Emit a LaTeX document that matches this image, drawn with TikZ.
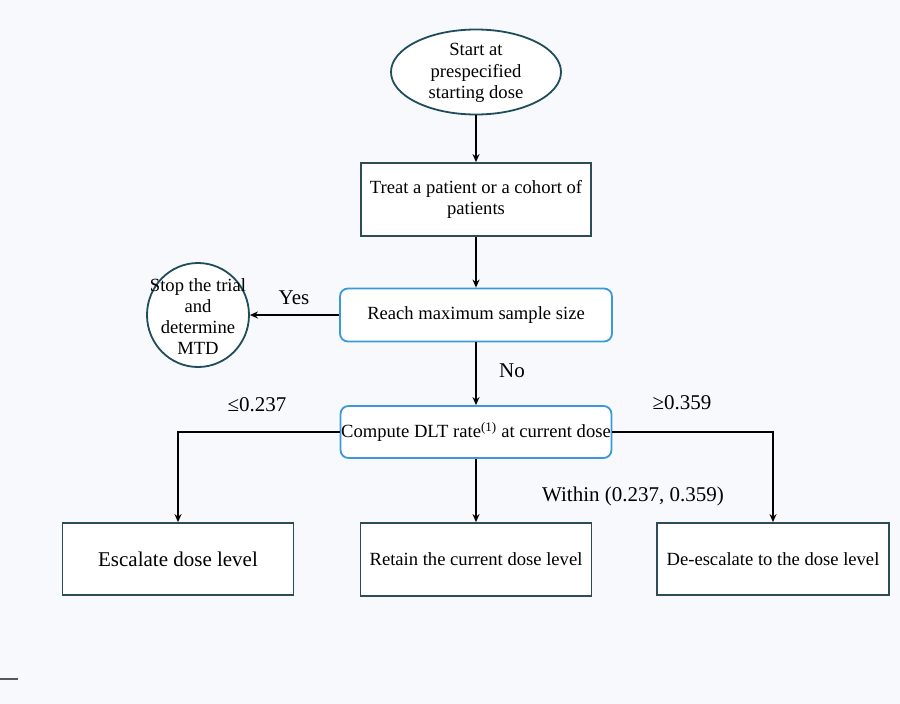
\documentclass[tikz,border=0pt]{standalone}
\usepackage{fontspec}
\setmainfont{Liberation Serif}
\usetikzlibrary{shapes.geometric,arrows.meta}
\definecolor{bgc}{HTML}{F8F9FC}
\definecolor{boxc}{HTML}{2E4C58}
\definecolor{ovalc}{HTML}{1F4D5E}
\definecolor{rboxc}{HTML}{3A9AD9}
\begin{document}
\begin{tikzpicture}[x=1pt,y=-1pt,
  txt/.style={font=\fontsize{18.6}{21.5}\selectfont},
  box/.style={draw=boxc, line width=1.8pt, fill=white, inner sep=0pt, align=center, txt},
  rbox/.style={draw=rboxc, line width=1.8pt, rounded corners=8pt, fill=white, inner sep=0pt, align=center, txt},
  oval/.style={ellipse, draw=ovalc, line width=1.8pt, fill=white, inner sep=0pt},
  ovaltext/.style={align=center, inner sep=0pt, txt},
  conn/.style={line width=2.8pt, -{Stealth[length=8pt,width=7pt]}},
  lbl/.style={font=\fontsize{21}{24}\selectfont, inner sep=1pt}]
\fill[bgc] (0,0) rectangle (900,704);
\useasboundingbox (0,0) rectangle (900,704);

\node[oval, minimum width=170pt, minimum height=85pt] (start) at (476,72) {};
\node[ovaltext] (starttext) at (476,73) {Start at\\prespecified\\starting dose};

\node[box, minimum width=230pt, minimum height=73pt] (treat) at (476,199.5) {Treat a patient or a cohort of\\patients};

\node[rbox, minimum width=272pt, minimum height=53pt] (reach) at (476,315) {Reach maximum sample size};

\node[oval, minimum width=102pt, minimum height=104pt] (stop) at (198,315) {};
\node[ovaltext, font=\fontsize{18.6}{21}\selectfont] (stoptext) at (198,317) {Stop the trial\\and\\determine\\MTD};

\node[rbox, minimum width=271pt, minimum height=52pt] (compute) at (476,432) {Compute DLT rate\textsuperscript{(1)} at current dose};

\node[box, minimum width=231pt, minimum height=72pt, font=\fontsize{21}{24}\selectfont] (escalate) at (178,559) {Escalate dose level};
\node[box, minimum width=231pt, minimum height=73pt] (retain) at (476,559.5) {Retain the current dose level};
\node[box, minimum width=232pt, minimum height=72pt] (deesc) at (773,559) {De-escalate to the dose level};

\draw[conn] (start.south) -- (treat.north);
\draw[conn] (treat.south) -- (reach.north);
\draw[conn] (reach.west) -- (stop.east);
\draw[conn] (reach.south) -- (compute.north);
\draw[conn] (compute.west) -| (escalate.north);
\draw[conn] (compute.east) -| (deesc.north);
\draw[conn] (compute.south) -- (retain.north);

\node[lbl] (yes) at (294,298) {Yes};
\node[lbl] (no) at (512,371) {No};
\node[lbl] (le) at (257,405) {≤0.237};
\node[lbl] (ge) at (682,403) {≥0.359};
\node[lbl] (within) at (633,496) {Within (0.237, 0.359)};

\draw[line width=1.5pt, black!65] (0,679) -- (18,679);
\end{tikzpicture}
\end{document}
